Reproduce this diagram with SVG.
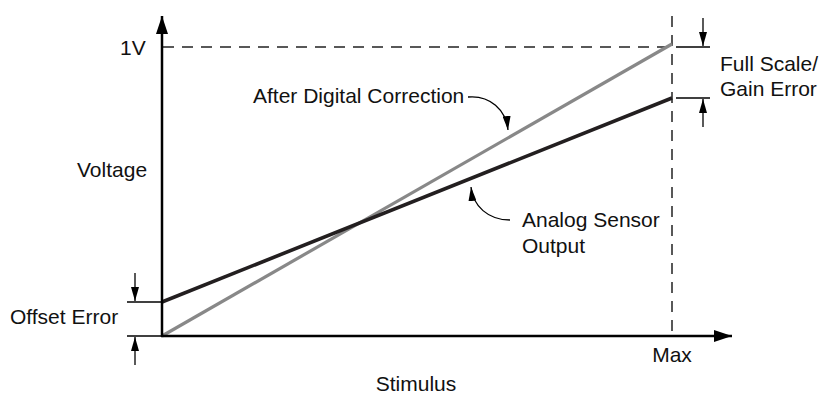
<svg xmlns="http://www.w3.org/2000/svg" width="820" height="397" viewBox="0 0 820 397">
<style>
text{font-family:"Liberation Sans",Arial,sans-serif;font-size:21px;fill:#111}
.ax{stroke:#000;stroke-width:2.5;fill:none}
.dash{stroke:#222;stroke-width:1.5;stroke-dasharray:11 8;fill:none}
.tick{stroke:#000;stroke-width:1.3;fill:none}
.thin{stroke:#000;stroke-width:1.3;fill:none}
</style>
<defs>
<marker id="big" markerWidth="10" markerHeight="8" refX="10" refY="4" orient="auto" markerUnits="userSpaceOnUse" viewBox="0 0 10 8"><path d="M0,0 L10,4 L0,8 Z" fill="#000"/></marker>
<marker id="ah" markerWidth="18" markerHeight="12" refX="18" refY="6" orient="auto" markerUnits="userSpaceOnUse" viewBox="0 0 18 12"><path d="M0,0 L18,6 L0,12 Z" fill="#000"/></marker>
<marker id="sm" markerWidth="14" markerHeight="8" refX="14" refY="4" orient="auto" markerUnits="userSpaceOnUse" viewBox="0 0 14 8"><path d="M0,0 L14,4 L0,8 Z" fill="#000"/></marker>
</defs>
<g id="connectors">
<line class="dash" x1="163" y1="47" x2="672" y2="47"/>
<line class="dash" x1="672" y1="16" x2="672" y2="336"/>
<line x1="162" y1="336" x2="672" y2="44" stroke="#888" stroke-width="3.2"/>
<line x1="162" y1="302" x2="672" y2="98" stroke="#231f20" stroke-width="3.6"/>
<line class="ax" x1="162" y1="337" x2="162" y2="16" marker-end="url(#ah)"/>
<line class="ax" x1="161" y1="336" x2="732" y2="336" marker-end="url(#ah)"/>
<line class="tick" x1="676" y1="47" x2="710" y2="47"/>
<line class="tick" x1="676" y1="98" x2="710" y2="98"/>
<line class="tick" x1="703" y1="18" x2="703" y2="46" marker-end="url(#sm)"/>
<line class="tick" x1="703" y1="127" x2="703" y2="99" marker-end="url(#sm)"/>
<line class="tick" x1="127" y1="302" x2="162" y2="302"/>
<line class="tick" x1="127" y1="336" x2="162" y2="336"/>
<line class="tick" x1="135" y1="273" x2="135" y2="301" marker-end="url(#sm)"/>
<line class="tick" x1="135" y1="365" x2="135" y2="337" marker-end="url(#sm)"/>
<path class="thin" d="M468,97 C490,95 506,110 508,130" marker-end="url(#sm)"/>
<path class="thin" d="M510,220 C488,220 473,206 471,187" marker-end="url(#sm)"/>
</g>
<g id="labels">
<text x="120" y="55">1V</text>
<text x="77" y="177">Voltage</text>
<text x="416" y="391" text-anchor="middle">Stimulus</text>
<text x="672" y="362" text-anchor="middle">Max</text>
<text x="10" y="324">Offset Error</text>
<text x="720" y="71">Full Scale/</text>
<text x="720" y="96">Gain Error</text>
<text x="253" y="103">After Digital Correction</text>
<text x="522" y="227">Analog Sensor</text>
<text x="522" y="253">Output</text>
</g>
</svg>
